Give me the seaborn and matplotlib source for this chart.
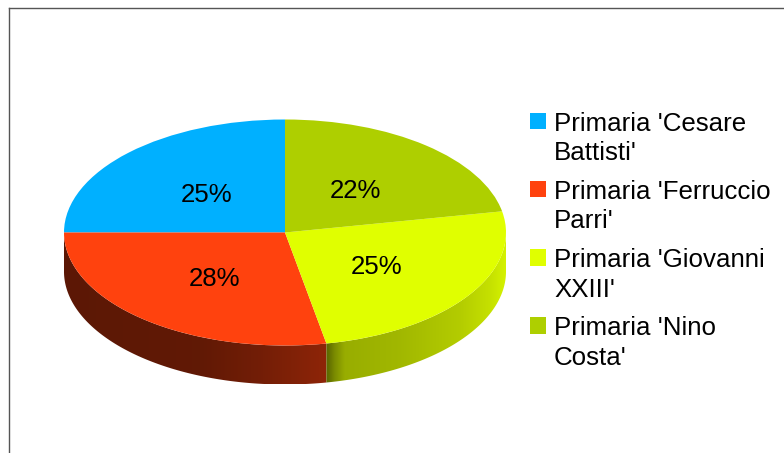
import numpy as np
import seaborn as sns
import matplotlib.pyplot as plt
from matplotlib.patches import Rectangle, Polygon
from matplotlib.legend_handler import HandlerPatch
from matplotlib.colors import to_rgb

## Data
schools = ["Primaria 'Cesare\nBattisti'", "Primaria 'Ferruccio\nParri'",
           "Primaria 'Giovanni\nXXIII'", "Primaria 'Nino\nCosta'"]
shares = [25, 28, 25, 22]

## Style
colors = sns.color_palette(["#00b0ff", "#ff420e", "#e0ff00", "#aecf00"])
W, H = 784, 453
CX, RX, RY, DEPTH = 285, 221, 113, 39
# Rim shading per slice: pixel column -> brightness
rim_stops = {1: ([64, 200, 260, 328], [0.36, 0.38, 0.45, 0.56]),
             2: ([328, 335, 345, 400, 460, 490, 506], [0.42, 0.55, 0.68, 0.72, 0.80, 0.88, 0.95])}

sns.set_theme(style="white")
plt.rcParams['font.family'] = ['Liberation Sans', 'DejaVu Sans']


# Legend square sits next to the first line of the label, not the middle
class TopSquare(HandlerPatch):
	def create_artists(self, legend, orig, xdescent, ydescent, width, height, fontsize, trans):
		p = Rectangle((-xdescent, -ydescent + fontsize * 0.69), width, height,
		              facecolor=orig.get_facecolor(), edgecolor="none", transform=trans)
		return [p]


fig = plt.figure(figsize=(W / 100, H / 100), dpi=100)

## Frame, only top and left are visible
frame = fig.add_axes([9 / W, 0, 1, 1 - 8 / H])
frame.set_xticks([])
frame.set_yticks([])
sns.despine(ax=frame, top=False, left=False, right=True, bottom=True)
for side in ["top", "left"]:
	frame.spines[side].set_color("#555555")
	frame.spines[side].set_linewidth(1.0)

## Pie, squashed by letting the axes be wider than tall
depth = DEPTH / RY
ax = fig.add_axes([(CX - RX) / W, 1 - (232.5 + RY + DEPTH) / H, 2 * RX / W, (2 * RY + DEPTH) / H])
ax.patch.set_alpha(0)
wedges, _, pct = ax.pie(shares, colors=colors, startangle=90, counterclock=True, radius=1,
                        autopct=lambda v: f"{v:.0f}%", pctdistance=0.5,
                        wedgeprops={"linewidth": 0},
                        textprops={"fontsize": 18.6, "color": "black"})
for p in pct:
	x, y = p.get_position()
	p.set_position((x, y - 0.022))

## Rim below the front half of the pie
edges = np.cumsum([0] + shares) / sum(shares) * 360 + 90
for i, stops in rim_stops.items():
	lo, hi = max(edges[i], 180), min(edges[i + 1], 360)
	tt = np.radians(np.linspace(lo, hi, 200))
	xs, ys = np.cos(tt), np.sin(tt)
	outline = np.r_[np.c_[xs, ys], np.c_[xs[::-1], ys[::-1] - depth]]
	clip = Polygon(outline, closed=True, transform=ax.transData, facecolor="none", edgecolor="none")
	ax.add_patch(clip)
	cols = np.linspace(-1, 1, 884)
	shade = np.interp(CX + cols * RX, stops[0], stops[1])
	img = np.outer(shade, to_rgb(colors[i]))[np.newaxis, :, :]
	im = ax.imshow(img, extent=(-1, 1, -1 - depth, 0.2), aspect="auto", zorder=0, interpolation="bilinear")
	im.set_clip_path(clip)
ax.set_aspect("auto")
ax.set_xlim(-1, 1)
ax.set_ylim(-1 - depth, 1)

## Legend
leg = ax.legend(wedges, schools, loc="upper left", bbox_to_anchor=(530 / W, 1 - 111.5 / H),
                bbox_transform=fig.transFigure, frameon=False, fontsize=18.6, borderpad=0,
                borderaxespad=0, handlelength=0.62, handleheight=0.62, handletextpad=0.31,
                labelspacing=0.56, handler_map={wedges[0].__class__: TopSquare()})
for t in leg.get_texts():
	t.set_linespacing(1.3)
	t.set_color("black")

plt.savefig("out.png", dpi=100)
